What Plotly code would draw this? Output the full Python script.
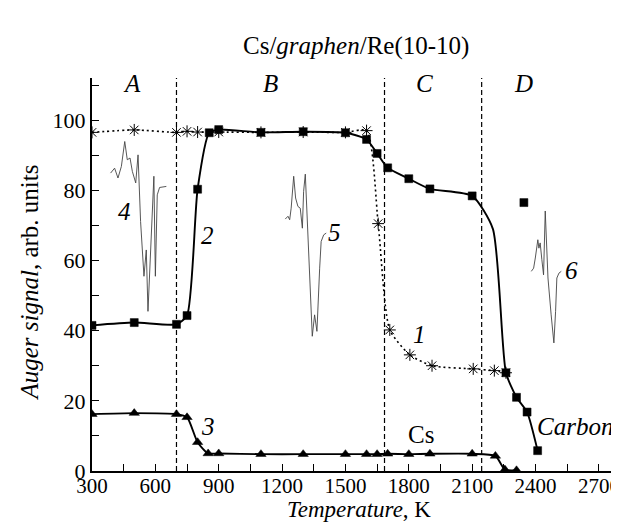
import plotly.graph_objects as go

# ---------------- data ----------------
# curve 1 (asterisks, dotted)
t1 = [300, 500, 700, 750, 800, 900, 1100, 1300, 1500, 1600, 1655, 1710, 1805, 1910, 2105, 2205, 2260]
s1 = [96.5, 97.2, 96.5, 96.8, 96.6, 96.6, 96.5, 96.6, 96.5, 97.0, 70.5, 40.2, 33.1, 30.0, 29.1, 28.6, 28.0]
# curve 2 (squares, solid) - Carbon; the 2198 value is where the drawn line passes (no marker)
t2 = [300, 500, 700, 750, 800, 855, 900, 1100, 1300, 1500, 1600, 1650, 1700,
      1800, 1900, 2100, 2198, 2260, 2310, 2360, 2410]
s2 = [41.5, 42.3, 41.8, 44.3, 80.3, 96.4, 97.3, 96.5, 96.7, 96.4, 94.5, 90.5, 86.4,
      83.3, 80.4, 78.4, 69.0, 28.0, 21.0, 16.8, 5.8]
t2_marked = [True] * 16 + [False] + [True] * 4
# isolated square of curve 2 in region D
t2_extra = [2345]
s2_extra = [76.5]
# curve 3 (triangles, solid) - Cs
t3 = [300, 500, 700, 750, 800, 850, 900, 1100, 1300, 1500, 1600, 1650, 1700,
      1800, 1900, 2100, 2210, 2255, 2310]
s3 = [16.2, 16.5, 16.2, 15.3, 8.2, 5.0, 5.0, 4.8, 4.8, 4.8, 4.8, 4.8, 4.9,
      4.8, 4.9, 4.9, 4.3, 0.4, 0.2]

# Auger spectra insets 4, 5, 6 (drawn in chart units)
sp4_t = [388, 407, 423, 439, 455, 467, 480, 491, 507, 518, 530, 546, 557, 565,
         593, 600, 609, 620, 652]
sp4_s = [84.9, 86.3, 83.5, 86.8, 93.9, 88.7, 89.2, 85.4, 82.1, 90.1, 71.1, 55.5,
         63.0, 45.5, 84.0, 55.5, 78.7, 80.8, 81.1]
sp5_t = [1215, 1228, 1236, 1243, 1255, 1264, 1275, 1286, 1296, 1302, 1310, 1322,
         1338, 1343, 1354, 1365, 1378, 1385, 1397, 1409]
sp5_s = [71.8, 72.6, 71.6, 74.9, 84.0, 77.8, 75.4, 74.9, 69.2, 79.7, 84.6, 67.3,
         46.4, 38.4, 44.5, 39.8, 57.8, 65.4, 67.3, 67.8]
sp6_t = [2380, 2391, 2399, 2411, 2416, 2422, 2430, 2438, 2446, 2459, 2474, 2487,
         2495, 2501, 2511, 2522]
sp6_s = [56.9, 57.8, 60.7, 65.9, 63.5, 65.0, 60.2, 55.9, 74.1, 55.0, 44.5, 36.5,
         45.5, 55.0, 56.4, 56.9]

# region boundaries
bounds = [700, 1685, 2145]
regions = ["A", "B", "C", "D"]

x_ticks = [300, 600, 900, 1200, 1500, 1800, 2100, 2400, 2700]
y_ticks = [0, 20, 40, 60, 80, 100]

FONT = "Liberation Serif"
LBL = 25

fig = go.Figure()

for tt, ss in [(sp4_t, sp4_s), (sp5_t, sp5_s), (sp6_t, sp6_s)]:
    fig.add_trace(go.Scatter(x=tt, y=ss, mode="lines",
                             line=dict(color="#444444", width=0.9),
                             hoverinfo="skip", showlegend=False))

fig.add_trace(go.Scatter(x=t1, y=s1, mode="lines+markers",
                         line=dict(color="black", width=1.6, dash="2px,3px", shape="spline", smoothing=0.6),
                         marker=dict(symbol="asterisk-open", size=10, color="black",
                                     line=dict(color="black", width=1)),
                         showlegend=False))
# curve 2: line through all values, squares only at measured points
fig.add_trace(go.Scatter(x=t2, y=s2, mode="lines",
                         line=dict(color="black", width=1.9, shape="spline", smoothing=0.6),
                         showlegend=False))
fig.add_trace(go.Scatter(x=[t for t, m in zip(t2, t2_marked) if m] + t2_extra,
                         y=[s for s, m in zip(s2, t2_marked) if m] + s2_extra,
                         mode="markers",
                         marker=dict(symbol="square", size=8, color="black",
                                     line=dict(color="black", width=0.5)),
                         showlegend=False))
fig.add_trace(go.Scatter(x=t3, y=s3, mode="lines+markers",
                         line=dict(color="black", width=1.9, shape="spline", smoothing=0.6),
                         marker=dict(symbol="triangle-up", size=9, color="black",
                                     line=dict(color="black", width=0.5)),
                         showlegend=False))

for b in bounds:
    fig.add_shape(type="line", x0=b, x1=b, xref="x", y0=0, y1=1, yref="paper",
                  line=dict(color="black", width=1.2, dash="5px,3px"))

ann = []
for lab, xx in zip(regions, [490, 1147, 1874, 2343]):
    ann.append(dict(x=xx, y=110.3, xref="x", yref="y", text=f"<i>{lab}</i>",
                    showarrow=False, font=dict(size=LBL, family=FONT, color="black")))
curve_labels = [("<i>4</i>", 455, 74), ("<i>2</i>", 849, 67.2), ("<i>5</i>", 1446, 68),
                ("<i>1</i>", 1853, 38.8), ("<i>3</i>", 849, 12.8), ("<i>6</i>", 2568, 57),
                ("Cs", 1857, 10.3), ("<i>Carbon</i>", 2585, 12.8)]
for txt, xx, yy in curve_labels:
    ann.append(dict(x=xx, y=yy, xref="x", yref="y", text=txt, showarrow=False,
                    font=dict(size=LBL, family=FONT, color="black")))
ann.append(dict(x=0.5, y=1.081, xref="paper", yref="paper", xanchor="center", yanchor="middle",
                text="Cs/<i>graphen</i>/Re(10-10)", showarrow=False,
                font=dict(size=25, family=FONT, color="black")))
ann.append(dict(x=-0.119, y=0.48, xref="paper", yref="paper", textangle=-90,
                xanchor="center", yanchor="middle",
                text="<i>Auger signal</i>, arb. units", showarrow=False,
                font=dict(size=25, family=FONT, color="black")))
ann.append(dict(x=0.506, y=-0.097, xref="paper", yref="paper", xanchor="center", yanchor="middle",
                text="<i>Temperature</i>, K", showarrow=False,
                font=dict(size=23, family=FONT, color="black")))

fig.update_layout(
    width=619, height=524,
    margin=dict(l=84, r=7, t=70, b=61),
    paper_bgcolor="white", plot_bgcolor="white",
    annotations=ann,
    xaxis=dict(range=[300, 2800], tickvals=x_ticks, ticktext=[str(v) for v in x_ticks],
               ticks="inside", ticklen=7, tickwidth=1.3, tickcolor="black",
               minor=dict(dtick=150, tick0=300, ticks="inside", ticklen=7, tickwidth=1.3, tickcolor="black"),
               showline=True, linewidth=2, linecolor="black", showgrid=False, zeroline=False,
               ticklabelstandoff=-5,
               tickfont=dict(size=21, family=FONT, color="black")),
    yaxis=dict(range=[0, 112], tickvals=y_ticks,
               ticks="inside", ticklen=7, tickwidth=1.3, tickcolor="black",
               minor=dict(dtick=10, tick0=0, ticks="inside", ticklen=7, tickwidth=1.3, tickcolor="black"),
               showline=True, linewidth=2, linecolor="black", showgrid=False, zeroline=False,
               tickfont=dict(size=22, family=FONT, color="black")),
)

fig.write_html("out.html")
